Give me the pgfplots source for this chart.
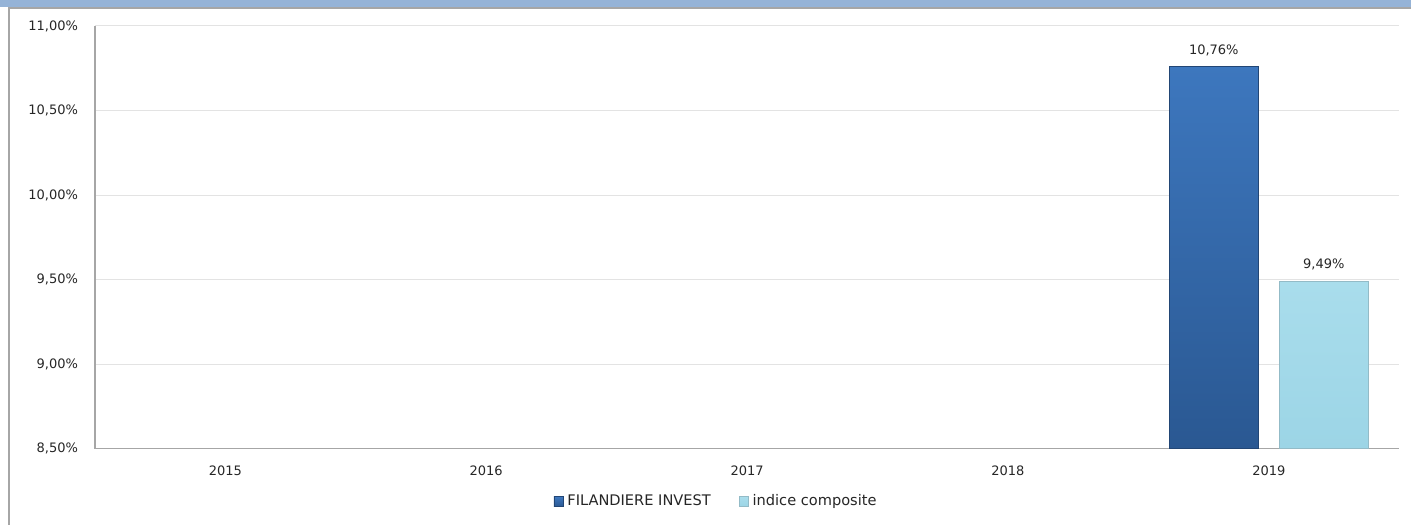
\documentclass[border=0pt]{standalone}
\usepackage{pgfplots}
\pgfplotsset{compat=1.18}
\usepackage{fontspec}
\setmainfont{DejaVu Sans}
\definecolor{band}{HTML}{95B3D7}
\definecolor{frame}{HTML}{A6A6A6}
\definecolor{gridc}{HTML}{E3E3E3}
\definecolor{filtop}{HTML}{3D77BE}
\definecolor{filbot}{HTML}{2A5892}
\definecolor{indtop}{HTML}{A9DDEC}
\definecolor{indbot}{HTML}{9CD5E6}
\begin{document}
\begin{tikzpicture}
% canvas 1412x525 px at 0.5pt per px
\path (0,0) rectangle (706pt,262.5pt);
\fill[band] (0,258.9pt) rectangle (706pt,262.5pt);
\draw[frame,line width=0.8pt] (4.5pt,0) -- (4.5pt,258.5pt) -- (706pt,258.5pt);
\begin{axis}[
  at={(47.5pt,38pt)}, anchor=south west,
  scale only axis, width=652.5pt, height=211.5pt,
  ybar=10.5pt, bar width=44.5pt,
  xmin=-0.5, xmax=4.5, ymin=8.5, ymax=11,
  xtick={0,1,2,3,4}, xticklabels={2015,2016,2017,2018,2019},
  ytick={8.5,9,9.5,10,10.5,11},
  major tick length=0pt,
  axis x line*=bottom, axis y line*=left,
  axis line style={frame,line width=0.6pt},
  ymajorgrids, grid style={gridc,line width=0.5pt},
  /pgf/number format/assume math mode=true,
  font=\fontsize{6.5}{8}\selectfont,
  tick label style={font=\fontsize{6.5}{8}\selectfont, text=black!85},
  xticklabel style={yshift=-5pt},
  yticklabel style={xshift=-5pt},
  yticklabel={\pgfmathprintnumber[fixed,fixed zerofill,precision=2,use comma]{\tick}\%},
  nodes near coords={\pgfmathprintnumber[fixed,fixed zerofill,precision=2,use comma]{\pgfplotspointmeta}\%},
  every node near coord/.append style={font=\fontsize{6.5}{8}\selectfont, text=black!85, yshift=2pt},
  legend style={at={(axis description cs:0.477,-0.125)}, anchor=center, draw=none,
    legend columns=2, font=\fontsize{7.3}{9}\selectfont, text=black!85,
    /tikz/every even column/.append style={column sep=12pt}},
  legend image code/.code={\fill[#1] (0pt,-2.4pt) rectangle (4.6pt,2.4pt);},
  legend cell align=left,
]
\addplot[draw=filbot!80!black, top color=filtop, bottom color=filbot, line width=0.3pt]
  coordinates {(4,10.76)};
\addplot[draw=indbot!70!gray, top color=indtop, bottom color=indbot, line width=0.3pt]
  coordinates {(4,9.49)};
\legend{FILANDIERE INVEST, indice composite}
\end{axis}
\end{tikzpicture}
\end{document}
